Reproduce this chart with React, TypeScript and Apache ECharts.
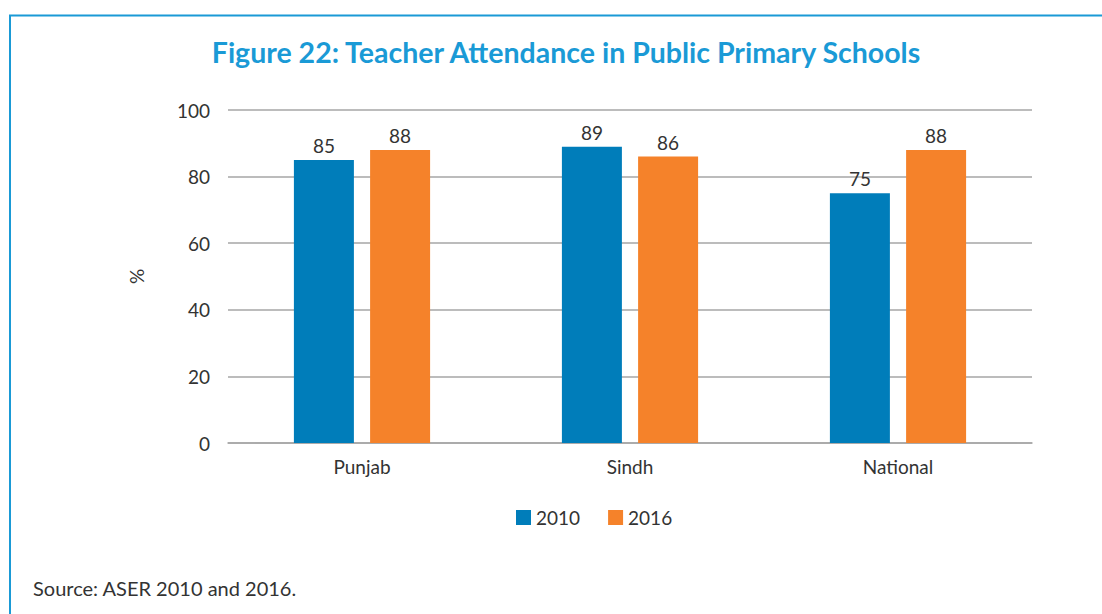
import React, { useEffect, useRef } from "react";
import * as echarts from "echarts";

const categories = ["Punjab", "Sindh", "National"];
const values2010 = [85, 89, 75];
const values2016 = [88, 86, 88];
const yTicks = { min: 0, max: 100, interval: 20 };
const titleText = "Figure 22: Teacher Attendance in Public Primary Schools";
const sourceText = "Source: ASER 2010 and 2016.";

const FONT = "Lato";
const TXT = "#333";

export default function App() {
  const ref = useRef<HTMLDivElement>(null);
  useEffect(() => {
    const chart = echarts.init(ref.current!, undefined, { renderer: "svg" });
    const labelStyle = {
      show: true,
      position: "top" as const,
      distance: 5,
      color: TXT,
      fontSize: 19,
      fontFamily: FONT,
    };
    chart.setOption({
      animation: false,
      backgroundColor: "#fff",
      textStyle: { fontFamily: FONT },
      title: {
        text: titleText,
        left: 561,
        top: 32,
        textAlign: "center",
        textStyle: { color: "#1a9ad6", fontSize: 28.5, fontWeight: "bold", fontFamily: FONT },
      },
      grid: { left: 228, right: 70, top: 110, bottom: 171, containLabel: false },
      legend: {
        left: 511,
        top: 503,
        itemWidth: 15,
        itemHeight: 15,
        itemGap: 28,
        icon: "rect",
        textStyle: { fontSize: 19, color: TXT, fontFamily: FONT },
        data: ["2010", "2016"],
      },
      xAxis: {
        type: "category",
        data: categories,
        axisLine: { lineStyle: { color: "#a6a6a6", width: 1.5 } },
        axisTick: { show: false },
        axisLabel: { color: TXT, fontSize: 19, margin: 14, fontFamily: FONT },
      },
      yAxis: {
        type: "value",
        min: yTicks.min,
        max: yTicks.max,
        interval: yTicks.interval,
        name: "%",
        nameLocation: "middle",
        nameGap: 82,
        nameRotate: 90,
        nameTextStyle: { color: TXT, fontSize: 19, fontFamily: FONT },
        axisLine: { show: false },
        axisTick: { show: false },
        axisLabel: { color: TXT, fontSize: 19, margin: 18, fontFamily: FONT },
        splitLine: { lineStyle: { color: "#a6a6a6", width: 1.5 } },
      },
      series: [
        {
          name: "2010",
          type: "bar",
          data: values2010,
          barWidth: 60,
          barGap: "27%",
          itemStyle: { color: "#007dba" },
          label: labelStyle,
        },
        {
          name: "2016",
          type: "bar",
          data: values2016,
          barWidth: 60,
          barGap: "27%",
          itemStyle: { color: "#f5822a" },
          label: labelStyle,
        },
      ],
      graphic: [
        {
          type: "rect",
          shape: { x: 10, y: 15.5, width: 1200, height: 700 },
          style: { fill: "none", stroke: "#1a9ad6", lineWidth: 2 },
          silent: true,
        },
        {
          type: "text",
          left: 33,
          top: 578,
          style: { text: sourceText, fill: TXT, fontSize: 20, fontFamily: FONT },
        },
      ],
    });
    return () => chart.dispose();
  }, []);
  return (
    <div
      ref={ref}
      style={{ position: "fixed", left: 0, top: 0, width: 1102, height: 614 }}
    />
  );
}
